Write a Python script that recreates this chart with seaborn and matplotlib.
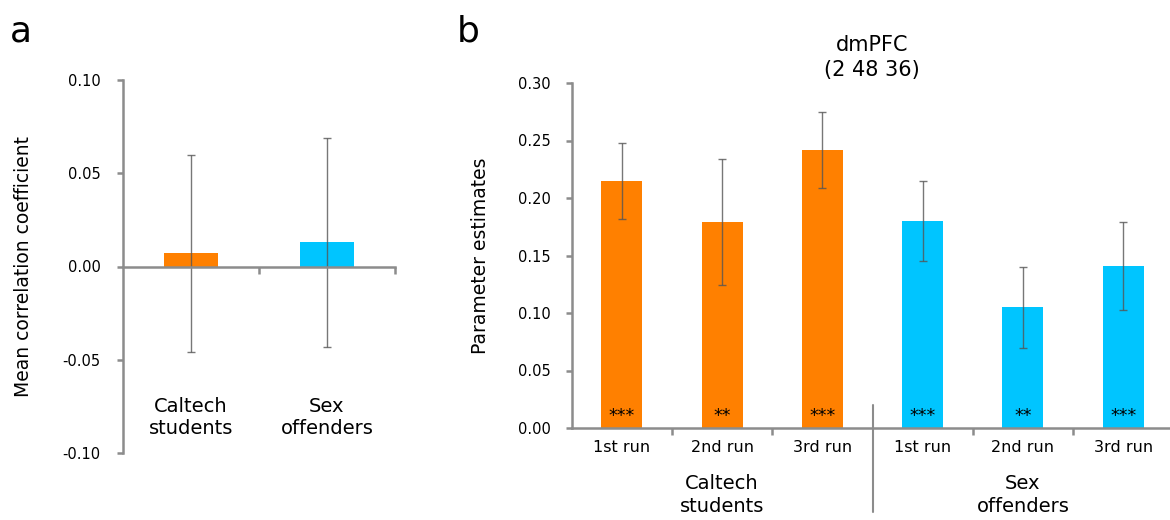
import numpy as np
import pandas as pd
import matplotlib
matplotlib.use('Agg')
import matplotlib.pyplot as plt
import matplotlib.transforms as mtransforms
import seaborn as sns

# panel a data
groups_a = ['Caltech\nstudents', 'Sex\noffenders']
corr_vals = [0.007, 0.013]
corr_err = [0.053, 0.056]

# panel b data
runs = ['1st run', '2nd run', '3rd run', '1st run', '2nd run', '3rd run']
run_group = ['Caltech', 'Caltech', 'Caltech', 'Sex', 'Sex', 'Sex']
pe_vals = [0.215, 0.179, 0.242, 0.180, 0.105, 0.141]
pe_err = [0.033, 0.055, 0.033, 0.035, 0.035, 0.038]
stars = ['***', '**', '***', '***', '**', '***']
group_labels_b = ['Caltech\nstudents', 'Sex\noffenders']

orange = '#FF8000'
blue = '#00C5FF'
gray = '#8c8c8c'

sns.set_theme(style='white')
plt.rcParams['font.family'] = ['DejaVu Sans']
plt.rcParams['axes.unicode_minus'] = False
plt.rcParams['text.color'] = 'black'
plt.rcParams['axes.labelcolor'] = 'black'
plt.rcParams['xtick.labelcolor'] = 'black'
plt.rcParams['ytick.labelcolor'] = 'black'

fig = plt.figure(figsize=[11.7, 5.2], dpi=100)
W, H = 1170.0, 520.0

# ---------- panel a ----------
ax_a = fig.add_axes([123 / W, 1 - 453 / H, 272 / W, 373 / H])
df_a = pd.DataFrame({'group': groups_a, 'corr': corr_vals})
sns.barplot(data=df_a, x='group', y='corr', hue='group', palette=[orange, blue],
            width=0.4, saturation=1, legend=False, errorbar=None, linewidth=0, ax=ax_a)
ax_a.errorbar(x=np.arange(len(corr_vals)), y=corr_vals, yerr=corr_err, fmt='none',
              ecolor='#555555', alpha=0.8, elinewidth=1, capsize=3, capthick=1)
ax_a.set_xlim(-0.5, 1.5)
ax_a.set_ylim(-0.10, 0.10)
ax_a.set_yticks([-0.10, -0.05, 0.0, 0.05, 0.10])
ax_a.set_yticklabels(['%.2f' % v for v in [-0.10, -0.05, 0.0, 0.05, 0.10]])
ax_a.set_xticks([])
ax_a.set_xticks([0.5, 1.5], minor=True)
ax_a.spines['bottom'].set_position(('data', 0))
for s in ['top', 'right']:
    ax_a.spines[s].set_visible(False)
for s in ['left', 'bottom']:
    ax_a.spines[s].set_color(gray)
    ax_a.spines[s].set_linewidth(1.8)
ax_a.tick_params(axis='y', length=4, width=1.8, color=gray, pad=12, labelsize=10.5,
                 left=True, direction='out')
ax_a.tick_params(axis='x', which='minor', length=5, width=1.8, color=gray,
                 bottom=True, direction='out')
ax_a.set_xlabel('')
ax_a.set_ylabel('Mean correlation coefficient', fontsize=13.5)
ax_a.yaxis.set_label_coords((33 - 123) / 272, 0.5)
for i, lab in enumerate(groups_a):
    ax_a.text(i, -0.081, lab, ha='center', va='center', fontsize=14, linespacing=1.25)

# ---------- panel b ----------
ax_b = fig.add_axes([571.75 / W, 1 - 428 / H, 601.5 / W, 345 / H])
df_b = pd.DataFrame({'cond': [g + ' ' + r for g, r in zip(run_group, runs)],
                     'group': run_group, 'pe': pe_vals})
sns.barplot(data=df_b, x='cond', y='pe', hue='group', palette=[orange, blue],
            width=0.41, saturation=1, legend=False, errorbar=None, dodge=False,
            linewidth=0, ax=ax_b)
ax_b.errorbar(x=np.arange(len(pe_vals)), y=pe_vals, yerr=pe_err, fmt='none',
              ecolor='#555555', alpha=0.8, elinewidth=1, capsize=3, capthick=1)
ax_b.set_xlim(-0.5, 5.5)
ax_b.set_ylim(0, 0.30)
yt = [0.0, 0.05, 0.10, 0.15, 0.20, 0.25, 0.30]
ax_b.set_yticks(yt)
ax_b.set_yticklabels(['%.2f' % v for v in yt])
ax_b.set_xticks(range(len(runs)))
ax_b.set_xticklabels(runs, fontsize=11.5)
ax_b.set_xticks([0.5, 1.5, 3.5, 4.5, 5.5], minor=True)
for s in ['top', 'right']:
    ax_b.spines[s].set_visible(False)
for s in ['left', 'bottom']:
    ax_b.spines[s].set_color(gray)
    ax_b.spines[s].set_linewidth(1.8)
ax_b.tick_params(axis='y', length=4, width=1.8, color=gray, pad=11, labelsize=10.5,
                 left=True, direction='out')
ax_b.tick_params(axis='x', which='major', length=0, pad=9)
ax_b.tick_params(axis='x', which='minor', length=5, width=1.8, color=gray,
                 bottom=True, direction='out')
ax_b.set_xlabel('')
ax_b.set_ylabel('Parameter estimates', fontsize=13.5)
ax_b.yaxis.set_label_coords((490 - 571.75) / 601.5, 0.5)

for i, st in enumerate(stars):
    ax_b.text(i, 0.006, st, ha='center', va='baseline', fontsize=12.5)

trans = mtransforms.blended_transform_factory(ax_b.transData, ax_b.transAxes)
ax_b.plot([2.5, 2.5], [(428 - 405) / 345, (428 - 512) / 345], color=gray, lw=1.5,
          transform=trans, clip_on=False)
for i, lab in zip([1, 4], group_labels_b):
    ax_b.text(i, (428 - 495) / 345, lab, ha='center', va='center', fontsize=14,
              linespacing=1.3, transform=trans)

fig.text(872 / W, 1 - 57.5 / H, 'dmPFC\n(2 48 36)', ha='center', va='center',
         fontsize=15, linespacing=1.35)

fig.text(10 / W, 1 - 42 / H, 'a', fontsize=26, va='baseline')
fig.text(457 / W, 1 - 42 / H, 'b', fontsize=26, va='baseline')

fig.savefig('out.png', dpi=100)
